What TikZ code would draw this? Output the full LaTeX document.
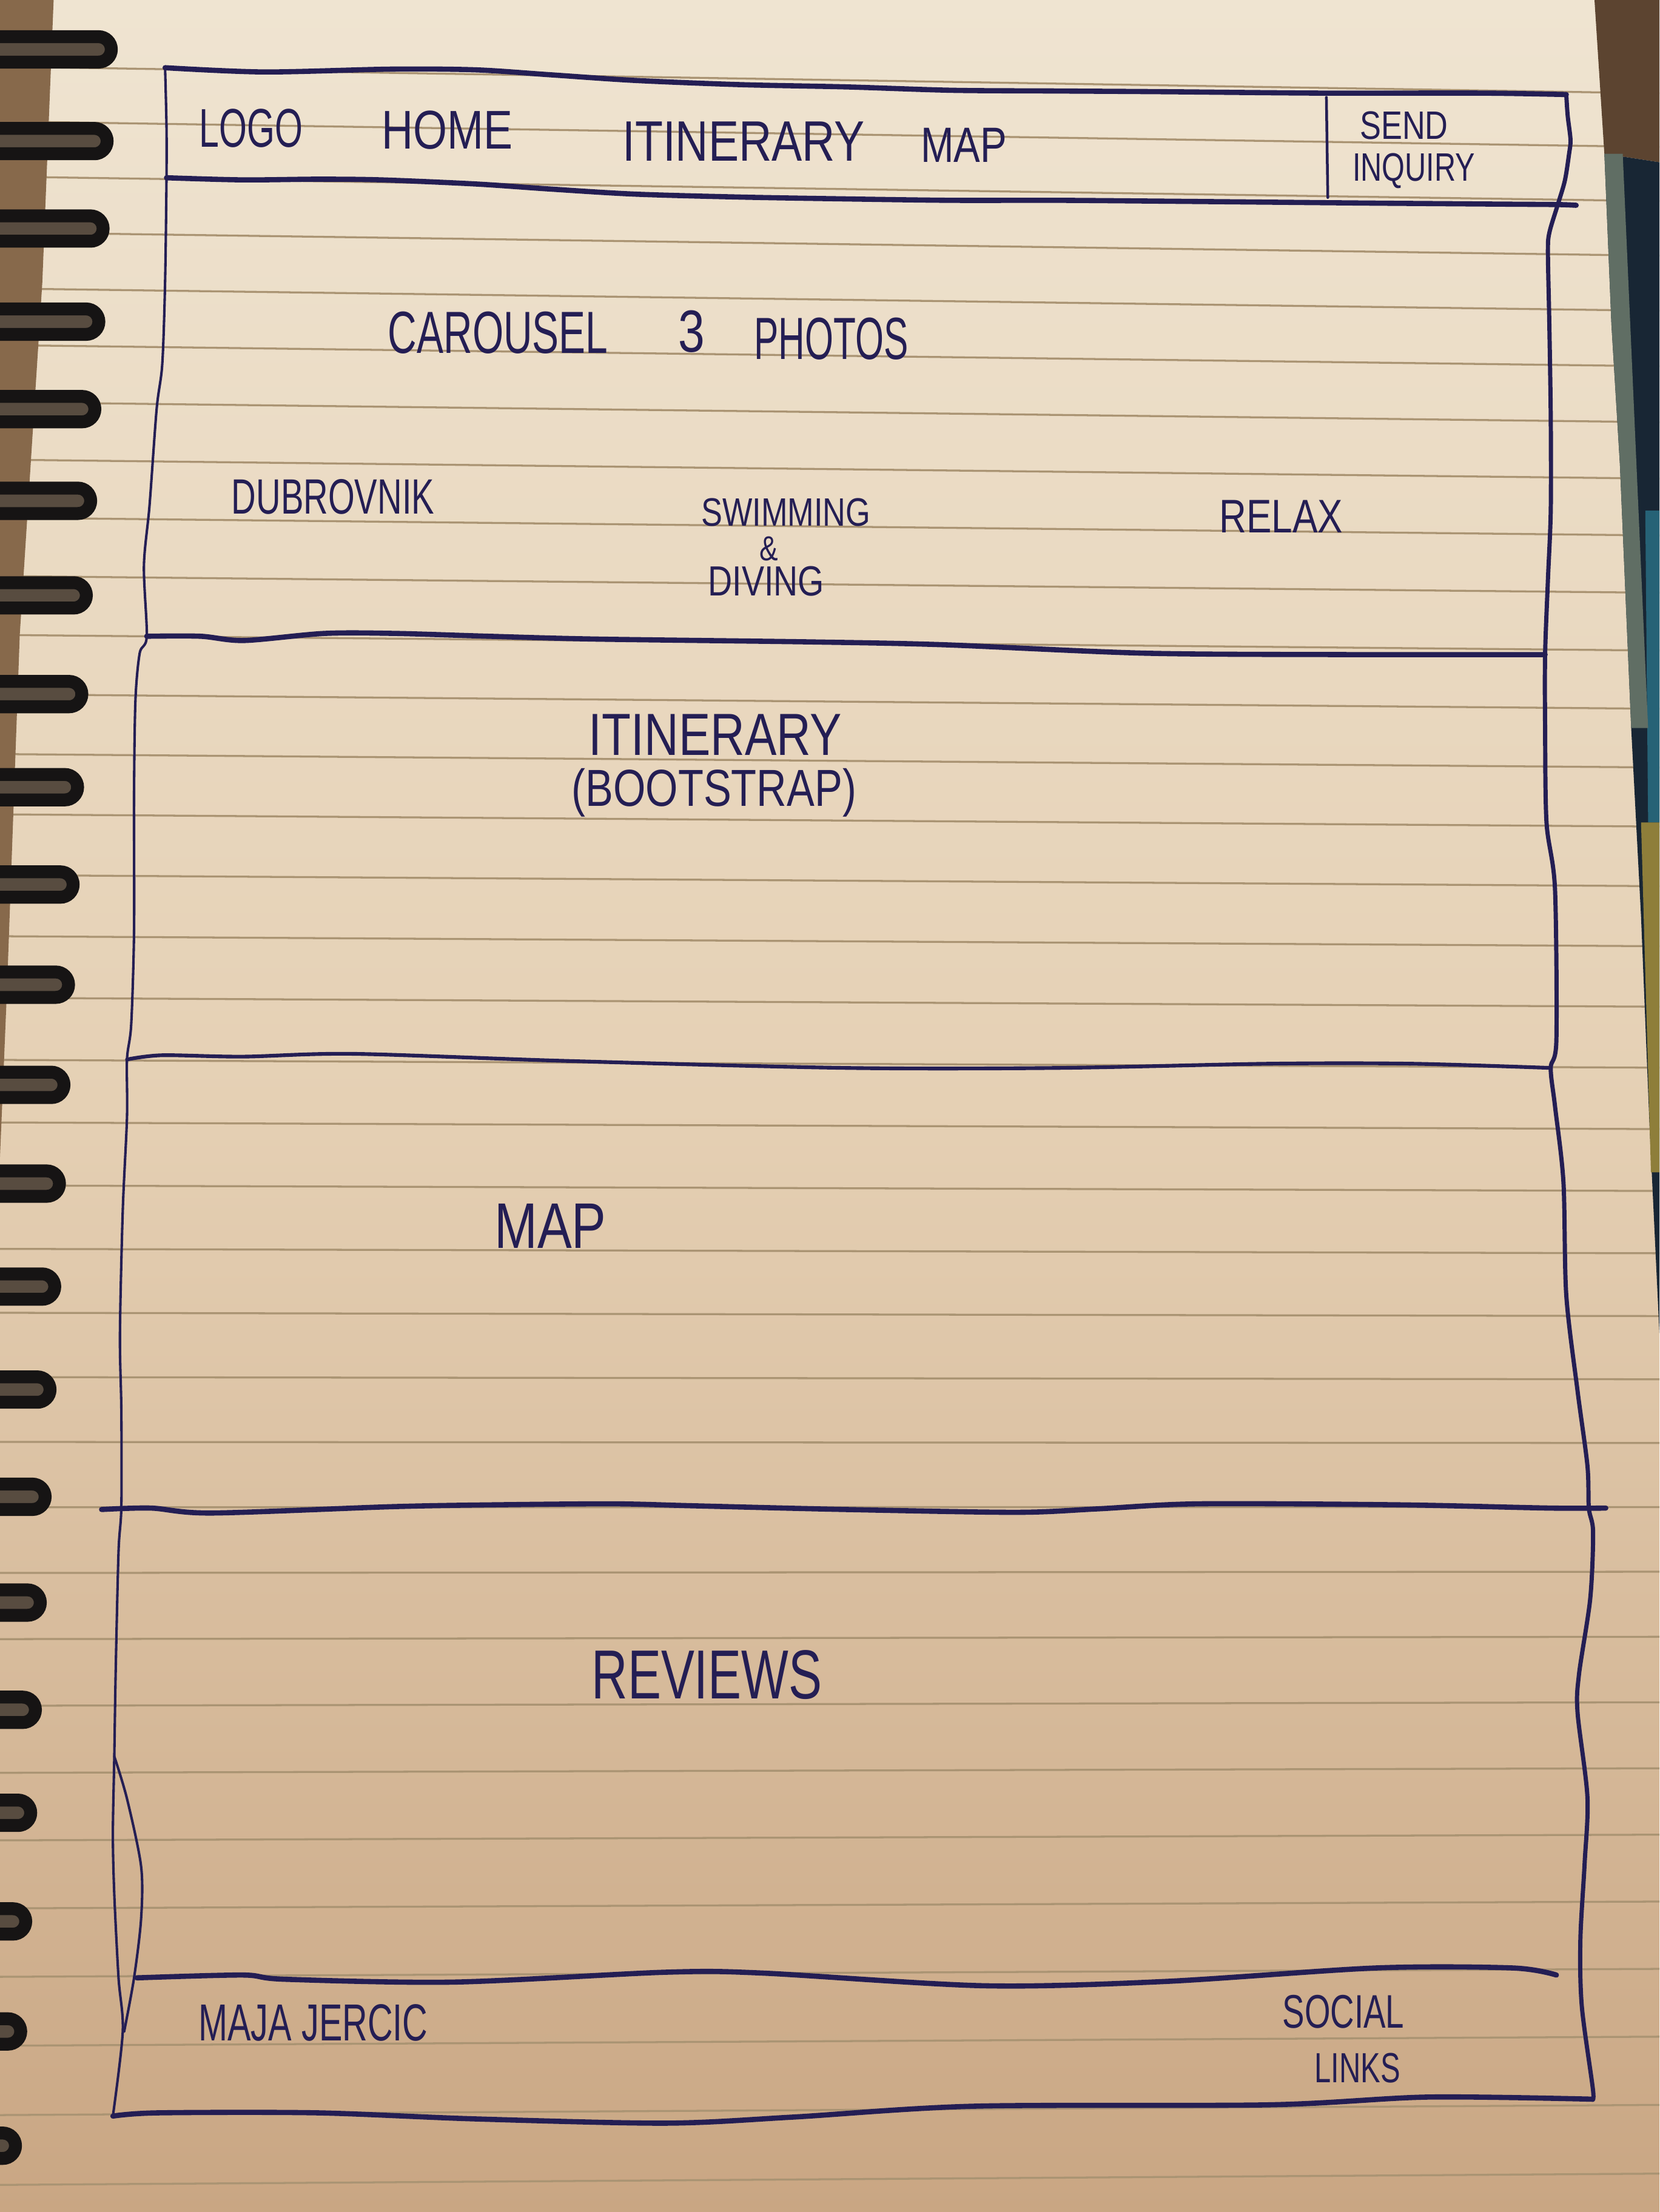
\documentclass[tikz,border=0pt]{standalone}
\usepackage{fontspec}
\newfontfamily\mano{Liberation Sans}[FakeStretch=0.8]
\usepackage{tikz}
\usetikzlibrary{calc}

\definecolor{tinta}{RGB}{36,30,84}
\definecolor{papelA}{RGB}{239,228,209}
\definecolor{papelB}{RGB}{229,208,180}
\definecolor{papelC}{RGB}{201,166,131}
\definecolor{renglon}{RGB}{170,148,115}
\definecolor{espiral}{RGB}{22,20,20}
\definecolor{hueco}{RGB}{88,76,64}
\definecolor{lomo}{RGB}{135,105,75}
\definecolor{fondoA}{RGB}{92,68,48}
\definecolor{fondoB}{RGB}{24,38,52}
\definecolor{fondoC}{RGB}{96,110,100}
\definecolor{fondoD}{RGB}{142,126,58}
\definecolor{fondoE}{RGB}{38,98,118}

% texto mas angosto (letra a mano)
\newcommand{\angosto}[2]{\scalebox{#1}[1]{#2}}

\begin{document}
\begin{tikzpicture}[
        x=0.1mm, y=-0.1mm,
        trazo/.style={tinta, line width=1.05pt, line cap=round, line join=round},
        borde/.style={tinta, line width=0.55pt, line cap=round, line join=round},
        hand/.style={text=tinta, inner sep=0pt, font=\mano\fontsize{#1}{#1}\selectfont},
        hand/.default=11,
        ring/.style={espiral, line width=2.6pt, fill=hueco}
    ]
        \useasboundingbox (0,0) rectangle (1176,1568);

        % --- Hoja de papel ---
        \shade[top color=papelA, bottom color=papelC, middle color=papelB] (0,0) rectangle (1176,1568);

        % Renglones (un poco inclinados por la foto)
        \foreach \n in {-1,...,33}{
            \pgfmathsetmacro{\yl}{86+39*\n+0.1614*\n*\n}
            \pgfmathsetmacro{\yr}{\yl+19-27*(\n+1)/34}
            \draw[renglon, line width=0.4pt] (0,\yl) -- (1176,\yr);
        }

        % --- Fondo a la derecha de la hoja ---
        \fill[fondoA] (1130,0) -- (1176,0) -- (1176,115) -- (1137,109) -- cycle;
        \fill[fondoB] (1137,109) -- (1176,115) -- (1176,945) -- (1169,798)
            -- (1163,650) -- (1156,516) -- (1148,329) -- (1142,230) -- cycle;
        \fill[fondoE] (1166,362) -- (1176,362) -- (1176,583) -- (1168,583) -- cycle;
        \fill[fondoD] (1163,583) -- (1176,583) -- (1176,831) -- (1170,831) -- cycle;
        \fill[fondoC] (1137,109) -- (1150,109) -- (1168,516) -- (1156,516)
            -- (1148,329) -- (1142,230) -- cycle;

        % --- Espiral ---
        \fill[lomo] (0,0) -- (38,0) -- (30,200) -- (14,450) -- (5,700) -- (0,820) -- cycle;
        \foreach \yc in {35,100,162,228,290,355,422,492,558,627,698,769,839,912,985,1061,1136,1212,1285,1362,1440,1521}{
            \pgfmathsetmacro{\tip}{62+(492-\yc)*0.0457}
            \draw[ring] (0,\yc-9) -- (\tip-13,\yc-9) arc(-90:90:9) -- (0,\yc+9);
        }

        % --- Esquinas del boceto ---
        \coordinate (A) at (117,48);   % cabecera, arriba izq.
        \coordinate (B) at (1110,67);  % cabecera, arriba der.
        \coordinate (C) at (118,126);
        \coordinate (D) at (1104,145);
        \coordinate (E) at (104,451);  % fin del carrusel
        \coordinate (F) at (1095,464);
        \coordinate (G) at (90,751);   % fin del itinerario
        \coordinate (H) at (1099,757);
        \coordinate (I) at (86,1068);  % fin del mapa
        \coordinate (J) at (1126,1069);
        \coordinate (M) at (80,1500);  % abajo
        \coordinate (N) at (1128,1488);
        \coordinate (dT) at (940,69);  % separador del boton
        \coordinate (dB) at (941,140);

        % --- Bordes verticales ---
        \draw[borde, line width=0.5pt] plot[smooth] coordinates {(A) (118,90) (C) (117,200) (115,258)
            (111,290) (106,358) (102,401) (E) (99,463) (96,496) (95,562) (95,660) (93,726) (G)
            (90,792) (87,858) (85,946) (86,1000) (I) (84,1100) (82,1184) (81,1245) (80,1300)
            (81,1343) (84,1402) (87,1440) (M)};
        \draw[borde, line width=0.5pt] plot[smooth] coordinates {(81,1245) (90,1275) (100,1323)
            (100,1360) (95,1402) (88,1440)};
        \draw[borde, line width=0.85pt] plot[smooth] coordinates {(B) (1111,82) (1113,99) (1112,109)
            (1109,128) (D) (1098,165) (1097,179) (1098,230) (1099,296) (1099,362) (1097,411) (F)
            (1095,516) (1096,583) (1102,630) (1103,737) (H) (1102,784) (1108,838) (1110,918)
            (1118,986) (1125,1039) (J) (1129,1086) (1127,1133) (1119,1187) (1118,1214) (1125,1274)
            (1123,1321) (1120,1375) (1121,1422) (1129,1482) (N)};
        \draw[borde] (dT) -- (dB);

        % --- Lineas horizontales ---
        \draw[trazo] plot[smooth] coordinates {(A) (187,51) (277,49) (337,49.5) (390,53) (450,57)
            (525,60) (600,61.6) (675,64) (750,64.5) (825,65) (937,66) (1050,66) (B)};
        \draw[trazo] plot[smooth] coordinates {(C) (172,127.5) (225,127) (270,127.5) (337,130.4)
            (390,134) (450,137.6) (525,139.7) (600,141) (675,142) (750,142) (825,142.6) (900,143.3)
            (975,144) (1065,144.7) (D) (1117,145.5)};
        \draw[trazo] plot[smooth] coordinates {(E) (142,451) (173,454) (230,449) (280,449) (346,451)
            (422,453) (573,455) (668,457) (811,463) (954,464) (F)};
        \draw[trazo, line width=0.75pt] plot[smooth] coordinates {(G) (115,748) (172,749) (250,747)
            (400,752) (600,757) (750,757) (900,754) (1000,754) (H)};
        \draw[trazo] plot[smooth] coordinates {(72,1070) (107,1069) (150,1072.5) (278,1068)
            (350,1066.7) (435,1066) (492,1067.4) (599,1070) (720,1072) (777,1069.6) (849,1066)
            (991,1066.7) (1098,1069) (1138,1069)};
        \draw[trazo] plot[smooth] coordinates {(97,1402) (172,1400) (202,1403) (322,1405) (472,1398)
            (540,1398.6) (697,1407.6) (825,1404.6) (975,1395) (1072,1395) (1103,1400)};
        \draw[trazo] plot[smooth] coordinates {(M) (112,1497.7) (225,1497.7) (337,1502) (472,1505)
            (562,1500.7) (690,1493) (900,1492) (1012,1486.5) (N)};

        % --- Cabecera ---
        \node[hand=11] (logo) at (178,91) {\angosto{0.82}{LOGO}};
        \node[hand=11] (home) at (317,92) {HOME};
        \node[hand=11.5] (navItin) at (527,100) {ITINERARY};
        \node[hand=10] (navMap) at (683,103) {MAP};
        \node[hand=8] (send) at (995,89) {SEND};
        \node[hand=8] (inquiry) at (1002,121) {\angosto{0.93}{INQUIRY}};

        % --- Carrusel ---
        \node[hand=12] (carousel) at (353,236) {\angosto{0.84}{CAROUSEL}};
        \node[hand=12] (three) at (490,235) {3};
        \node[hand=12] (photos) at (589,240) {\angosto{0.77}{PHOTOS}};
        \node[hand=10] (dubrovnik) at (236,352) {\angosto{0.86}{DUBROVNIK}};
        \node[hand=8] (swimming) at (557,363) {SWIMMING};
        \node[hand=7] (amp) at (545,389) {\&};
        \node[hand=8.5] (diving) at (543,412) {DIVING};
        \node[hand=9.5] (relax) at (908,366) {RELAX};

        % --- Secciones ---
        \node[hand=12] (itinerary) at (507,521) {ITINERARY};
        \node[hand=10.5] (bootstrap) at (506,562) {(BOOTSTRAP)};
        \node[hand=13] (map) at (390,869) {MAP};
        \node[hand=14] (reviews) at (501,1187) {\angosto{0.9}{REVIEWS}};

        % --- Pie ---
        \node[hand=10.5] (author) at (222,1434) {\angosto{0.84}{MAJA JERCIC}};
        \node[hand=9.5] (social) at (952,1426) {\angosto{0.88}{SOCIAL}};
        \node[hand=8.5] (links) at (962,1466) {\angosto{0.88}{LINKS}};

    \end{tikzpicture}
\end{document}
